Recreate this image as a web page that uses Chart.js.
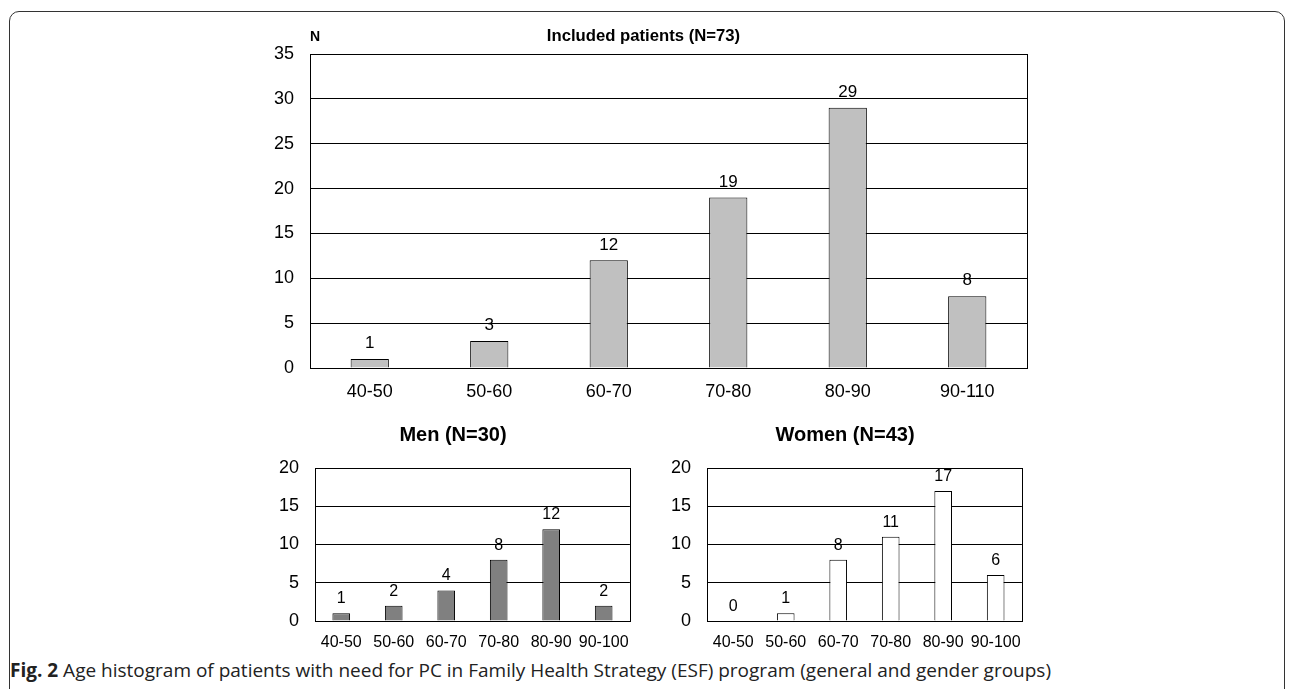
<!DOCTYPE html>
<html>
<head>
<meta charset="utf-8">
<script src="https://cdn.jsdelivr.net/npm/chart.js@4"></script>
<style>
    body{
        margin:0;
        width:1292px;
        height:689px;
        background:#fff;
        position:relative;
        overflow:hidden;
        font-family:"Liberation Sans", Arial, sans-serif;
    }
    .frame{
        position:absolute;
        left:9px;
        top:11px;
        width:1274px;
        height:700px;
        border:1.5px solid #333;
        border-radius:10px;
    }
    .box{
        position:absolute;
    }
    #caption{
        position:absolute;
        left:10px;
        top:657px;
        font-family:"Open Sans", sans-serif;
        font-size:19px;
        color:#222;
        white-space:nowrap;
    }
</style>
</head>
<body>

<div class="frame"></div>

<div class="box" style="left:260px; top:0px; width:772px; height:413px;">
    <canvas id="allChart"></canvas>
</div>

<div class="box" style="left:270px; top:420px; width:371px; height:236px;">
    <canvas id="menChart"></canvas>
</div>

<div class="box" style="left:662px; top:420px; width:371px; height:236px;">
    <canvas id="womenChart"></canvas>
</div>

<div id="caption"><b>Fig. 2</b> Age histogram of patients with need for PC in Family Health Strategy (ESF) program (general and gender groups)</div>

<script>

const allLabels = ["40-50","50-60","60-70","70-80","80-90","90-110"];
const allValues = [1,3,12,19,29,8];

const genderLabels = ["40-50","50-60","60-70","70-80","80-90","90-100"];
const menValues = [1,2,4,8,12,2];
const womenValues = [0,1,8,11,17,6];

const fontFamily = "'Liberation Sans', Arial, sans-serif";

// outline around the plot + value labels above bars + optional "N"
const decorPlugin = {
    id:"decor",
    afterDraw(chart, args, opts){
        const ctx = chart.ctx;
        const area = chart.chartArea;

        ctx.save();
        ctx.strokeStyle = "#000";
        ctx.lineWidth = 1;
        ctx.strokeRect(Math.round(area.left)+0.5, Math.round(area.top)+0.5,
            Math.round(area.right-area.left), Math.round(area.bottom-area.top));

        ctx.fillStyle = "#000";
        ctx.textAlign = "center";
        ctx.textBaseline = "bottom";
        ctx.font = opts.labelSize + "px " + fontFamily;

        const meta = chart.getDatasetMeta(0);
        meta.data.forEach((bar, i) => {
            const v = chart.data.datasets[0].data[i];
            ctx.fillText(String(v), bar.x, bar.y - opts.labelGap);
        });

        if(opts.showN){
            ctx.font = "bold 14px " + fontFamily;
            ctx.textAlign = "left";
            ctx.textBaseline = "middle";
            ctx.fillText("N", area.left, 37);
        }
        ctx.restore();
    }
};

function makeChart(id, labels, values, color, cfg){

    return new Chart(document.getElementById(id), {
        type:"bar",
        data:{
            labels:labels,
            datasets:[{
                data:values,
                backgroundColor:color,
                borderColor:"#000",
                borderWidth:1,
                barPercentage:cfg.barPct,
                categoryPercentage:1
            }]
        },
        options:{
            responsive:true,
            maintainAspectRatio:false,
            animation:false,
            layout:{ padding:{ top:0, right:5, bottom:0, left:0 } },
            plugins:{
                legend:{ display:false },
                tooltip:{ enabled:false },
                title:{
                    display:true,
                    text:cfg.title,
                    color:"#000",
                    font:{ family:fontFamily, size:cfg.titleSize, weight:"bold", lineHeight:1.2 },
                    padding:{ top:cfg.titleTop, bottom:cfg.titleBottom }
                },
                decor:{ labelSize:cfg.labelSize, labelGap:cfg.labelGap, showN:cfg.showN }
            },
            scales:{
                x:{
                    grid:{ display:false, drawTicks:false },
                    border:{ display:true, color:"#000", width:1 },
                    ticks:{
                        color:"#000",
                        padding:cfg.xPad,
                        maxRotation:0,
                        autoSkip:false,
                        font:{ family:fontFamily, size:cfg.xSize }
                    },
                    afterFit(scale){ scale.height = cfg.xHeight; }
                },
                y:{
                    min:0,
                    max:cfg.max,
                    grid:{ color:"#000", lineWidth:1, drawTicks:false },
                    border:{ display:true, color:"#000", width:1 },
                    ticks:{
                        stepSize:5,
                        color:"#000",
                        padding:cfg.yPad,
                        font:{ family:fontFamily, size:cfg.ySize }
                    },
                    afterFit(scale){ scale.width = cfg.yWidth; }
                }
            }
        },
        plugins:[decorPlugin]
    });
}

makeChart("allChart", allLabels, allValues, "#c0c0c0", {
    title:"Included patients (N=73)", titleSize:16.7, titleTop:26, titleBottom:8,
    max:35, barPct:0.32, labelSize:17, labelGap:7, showN:true,
    xPad:13, xSize:18, xHeight:45, yPad:16, ySize:18, yWidth:50
});

makeChart("menChart", genderLabels, menValues, "#808080", {
    title:"Men (N=30)", titleSize:20, titleTop:3, titleBottom:21,
    max:20, barPct:0.336, labelSize:16, labelGap:6.5, showN:false,
    xPad:12, xSize:16, xHeight:35, yPad:16, ySize:18, yWidth:45
});

makeChart("womenChart", genderLabels, womenValues, "#ffffff", {
    title:"Women (N=43)", titleSize:20, titleTop:3, titleBottom:21,
    max:20, barPct:0.336, labelSize:16, labelGap:6.5, showN:false,
    xPad:12, xSize:16, xHeight:35, yPad:16, ySize:18, yWidth:45
});

</script>
</body>
</html>
